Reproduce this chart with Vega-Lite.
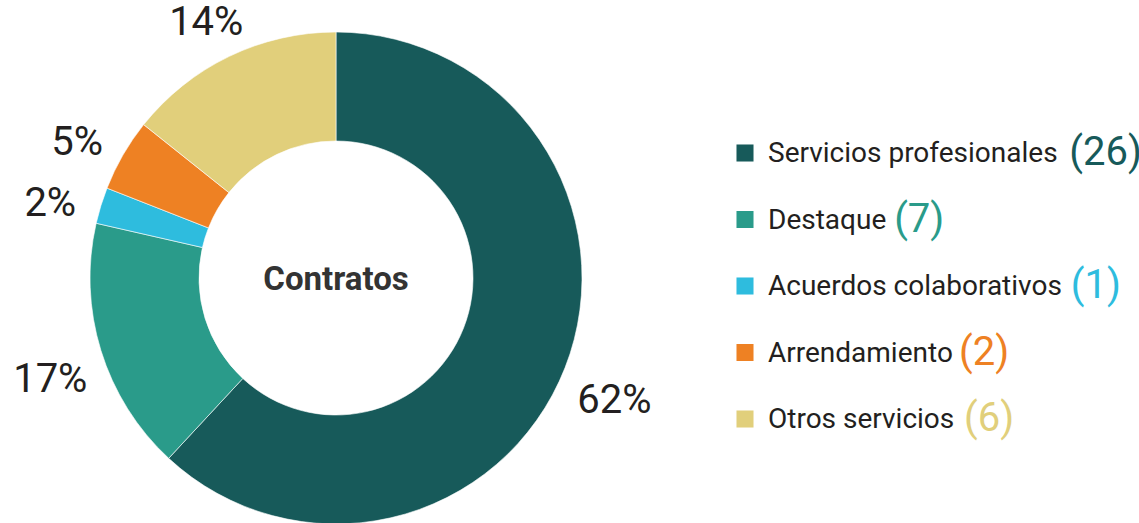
{
  "$schema": "https://vega.github.io/schema/vega-lite/v6.json",
  "padding": {"left": 0, "top": 0, "right": 0, "bottom": -33},
  "background": "white",
  "config": {"view": {"stroke": null}, "concat": {"spacing": 0}},
  "datasets": {
    "contratos": [
      {"label": "Servicios profesionales", "count": 26},
      {"label": "Destaque", "count": 7},
      {"label": "Acuerdos colaborativos", "count": 1},
      {"label": "Arrendamiento", "count": 2},
      {"label": "Otros servicios", "count": 6}
    ]
  },
  "hconcat": [
    {
      "width": 672,
      "height": 556,
      "data": {"name": "contratos"},
      "transform": [
        {"window": [{"op": "row_number", "as": "idx"}]},
        {"joinaggregate": [{"op": "sum", "field": "count", "as": "total"}]},
        {"calculate": "round(datum.count / datum.total * 100) + '%'", "as": "pct"}
      ],
      "layer": [
        {
          "mark": {"type": "arc", "outerRadius": 246, "innerRadius": 137, "stroke": "white", "strokeWidth": 0.6},
          "encoding": {
            "theta": {"field": "count", "type": "quantitative", "stack": true},
            "order": {"field": "idx", "type": "quantitative"},
            "color": {
              "field": "label", "type": "nominal", "legend": null,
              "scale": {
                "domain": ["Servicios profesionales", "Destaque", "Acuerdos colaborativos", "Arrendamiento", "Otros servicios"],
                "range": ["#175a5a", "#2a9b8a", "#2ebcde", "#ee8123", "#e1cf7b"]
              }
            }
          }
        },
        {
          "mark": {"type": "text", "radius": 299, "dy": 14, "fontSize": 40, "fontWeight": 400, "font": "Roboto", "fill": "#231f20", "align": "center", "baseline": "middle"},
          "encoding": {
            "theta": {"field": "count", "type": "quantitative", "stack": true},
            "order": {"field": "idx", "type": "quantitative"},
            "text": {"field": "pct", "type": "nominal"}
          }
        },
        {
          "data": {"values": [{"t": "Contratos"}]},
          "mark": {"type": "text", "fontSize": 33, "fontWeight": "bold", "font": "Roboto", "fill": "#333333", "align": "center", "baseline": "middle", "dy": 2},
          "encoding": {"text": {"field": "t", "type": "nominal"}}
        }
      ]
    },
    {
      "width": 460,
      "height": 556,
      "data": {"name": "contratos"},
      "transform": [
        {"calculate": "96 + 7 + 28 * (0.245 * length(replace(datum.label, regexp('[^il ]', 'g'), '')) + 0.335 * length(replace(datum.label, regexp('[^rtf]', 'g'), '')) + 0.86 * length(replace(datum.label, regexp('[^m]', 'g'), '')) + 0.65 * length(replace(datum.label, regexp('[^A-Z]', 'g'), '')) + 0.545 * length(replace(datum.label, regexp('[il rtfmA-Z]', 'g'), '')))", "as": "cx"},
        {"calculate": "'(' + datum.count + ')'", "as": "ctext"}
      ],
      "encoding": {
        "y": {"field": "label", "type": "nominal", "sort": null, "axis": null,
              "scale": {"type": "point", "range": [153, 419], "padding": 0}}
      },
      "layer": [
        {
          "mark": {"type": "square", "size": 290, "filled": true, "opacity": 1},
          "encoding": {
            "x": {"value": 73},
            "color": {
              "field": "label", "type": "nominal", "legend": null,
              "scale": {
                "domain": ["Servicios profesionales", "Destaque", "Acuerdos colaborativos", "Arrendamiento", "Otros servicios"],
                "range": ["#175a5a", "#2a9b8a", "#2ebcde", "#ee8123", "#e1cf7b"]
              }
            }
          }
        },
        {
          "mark": {"type": "text", "align": "left", "baseline": "middle", "fontSize": 28, "font": "Roboto", "fill": "#231f20", "dy": 1},
          "encoding": {
            "x": {"value": 96},
            "text": {"field": "label", "type": "nominal"}
          }
        },
        {
          "mark": {"type": "text", "align": "left", "baseline": "middle", "fontSize": 40, "fontWeight": 400, "font": "Roboto", "dy": 0},
          "encoding": {
            "x": {"field": "cx", "type": "quantitative", "scale": null},
            "text": {"field": "ctext", "type": "nominal"},
            "color": {
              "field": "label", "type": "nominal", "legend": null,
              "scale": {
                "domain": ["Servicios profesionales", "Destaque", "Acuerdos colaborativos", "Arrendamiento", "Otros servicios"],
                "range": ["#175a5a", "#2a9b8a", "#2ebcde", "#ee8123", "#e1cf7b"]
              }
            }
          }
        }
      ]
    }
  ]
}
